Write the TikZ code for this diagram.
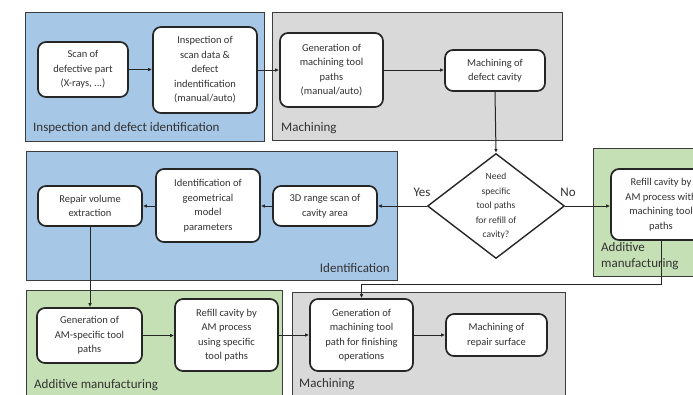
\documentclass[tikz,border=0pt]{standalone}
\usepackage{fontspec}
\setmainfont{Carlito}
\usetikzlibrary{shapes.geometric,arrows.meta}
\definecolor{pblue}{RGB}{167,199,231}
\definecolor{pgray}{RGB}{217,217,217}
\definecolor{pgreen}{RGB}{197,224,180}
\definecolor{edge}{RGB}{60,60,60}
\definecolor{txt}{RGB}{50,50,50}
\tikzset{
  panel/.style={draw=edge, line width=1pt},
  box/.style={draw=black!85, line width=1.7pt, rounded corners=8pt, fill=white,
    align=center, inner sep=0pt, text=txt, font=\fontsize{10.5}{14.5}\selectfont},
  plabel/.style={text=txt, inner sep=0pt, font=\fontsize{13}{16}\selectfont},
  arr/.style={draw=black!85, line width=1pt, -{Latex[length=4pt,width=3.6pt]}},
}
\begin{document}
\begin{tikzpicture}[x=1pt,y=-1pt]
\useasboundingbox (0,0) rectangle (693,394);
\clip (0,0) rectangle (693,394);
% panels
\fill[white] (0,0) rectangle (693,394);
\draw[panel, fill=pblue] (25,12) rectangle (264,141);
\draw[panel, fill=pgray] (272,12) rectangle (562,140);
\draw[panel, fill=pblue] (26,151) rectangle (397,280);
\draw[panel, fill=pgreen] (593,148) rectangle (725,276);
\draw[panel, fill=pgreen] (26,290) rectangle (282,400);
\draw[panel, fill=pgray] (292,292) rectangle (565,400);
% panel labels
\node[plabel, anchor=west] (l1) at (33,128) {Inspection and defect identification};
\node[plabel, anchor=west] (l2) at (281,128) {Machining};
\node[plabel, anchor=east] (l3) at (390,268) {Identification};
\node[plabel, anchor=west, align=left] (l4) at (601,256) {Additive\\manufacturing};
\node[plabel, anchor=west] (l5) at (34,385) {Additive manufacturing};
\node[plabel, anchor=west] (l6) at (299,384) {Machining};
% boxes
\node[box, minimum width=90, minimum height=55] (scan) at (83,69.5) {Scan of\\defective part\\(X-rays, ...)};
\node[box, minimum width=104, minimum height=86] (insp) at (205,70) {Inspection of\\scan data \&\\defect\\indentification\\(manual/auto)};
\node[box, minimum width=103, minimum height=74] (gen1) at (331.5,70) {Generation of\\machining tool\\paths\\(manual/auto)};
\node[box, minimum width=100, minimum height=41] (mach1) at (495,70.5) {Machining of\\defect cavity};
\node[diamond, draw=black!85, line width=1.4pt, fill=white, minimum width=137, minimum height=105, inner sep=0pt] (dec) at (496,206) {};
\node[align=center, text=txt, inner sep=0pt, font=\fontsize{9.5}{14.5}\selectfont] (dectext) at (496,206) {Need\\specific\\tool paths\\for refill of\\cavity?};
\node[box, minimum width=100, minimum height=71] (refill1) at (661,204.5) {Refill cavity by\\AM process with\\machining tool\\paths};
\node[box, minimum width=104, minimum height=40] (repair) at (90,206) {Repair volume\\extraction};
\node[box, minimum width=104, minimum height=73] (ident) at (208,205.5) {Identification of\\geometrical\\model\\parameters};
\node[box, minimum width=104, minimum height=40] (scan3d) at (325,206) {3D range scan of\\cavity area};
\node[box, minimum width=105, minimum height=55] (genAM) at (89.5,335.5) {Generation of\\AM-specific tool\\paths};
\node[box, minimum width=103, minimum height=72] (refillAM) at (226.5,335) {Refill cavity by\\AM process\\using specific\\tool paths};
\node[box, minimum width=103, minimum height=72] (genfin) at (361.5,335) {Generation of\\machining tool\\path for finishing\\operations};
\node[box, minimum width=101, minimum height=42] (machrep) at (496.5,335) {Machining of\\repair surface};
% yes / no
\node[plabel] (yes) at (422,192) {Yes};
\node[plabel] (no) at (568,192) {No};
% connectors
\draw[arr] (scan.east) -- (insp.west |- scan.east);
\draw[arr] (insp.east) -- (gen1.west);
\draw[arr] (gen1.east) -- (mach1.west |- gen1.east);
\draw[arr] (mach1.south) -- (dec.north);
\draw[arr] (dec.west) -- (scan3d.east);
\draw[arr] (scan3d.west) -- (ident.east |- scan3d.west);
\draw[arr] (ident.west |- repair.east) -- (repair.east);
\draw[arr] (repair.south) -- (repair.south |- genAM.north);
\draw[arr] (genAM.east) -- (refillAM.west |- genAM.east);
\draw[arr] (refillAM.east) -- (genfin.west);
\draw[arr] (genfin.east) -- (machrep.west);
\draw[arr] (dec.east) -- (refill1.west |- dec.east);
\draw[arr] (refill1.south) -- ++(0,44) -| (genfin.north);
\end{tikzpicture}
\end{document}
